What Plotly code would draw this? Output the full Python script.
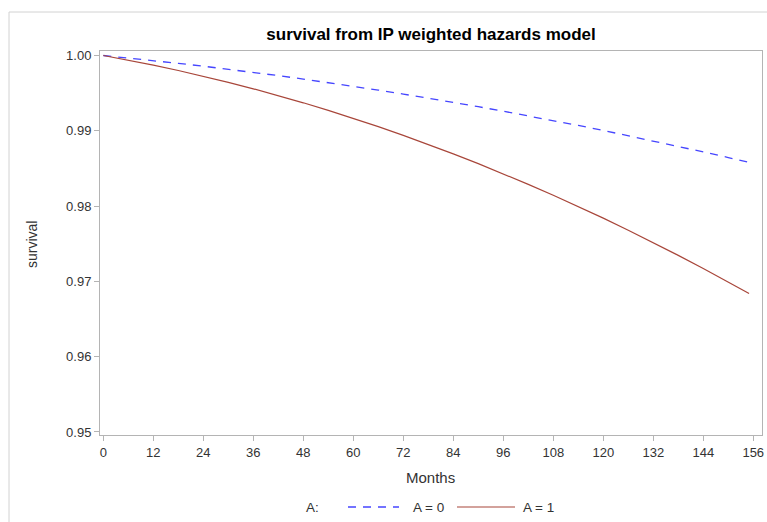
import plotly.graph_objects as go

months = [0, 6, 12, 18, 24, 30, 36, 42, 48, 54, 60, 66, 72, 78, 84, 90, 96,
          102, 108, 114, 120, 126, 132, 138, 144, 150, 155]
surv_a0 = [1.0000, 0.99967, 0.99932, 0.99896, 0.99858, 0.99818, 0.99776, 0.99733,
           0.99687, 0.99640, 0.99591, 0.99541, 0.99488, 0.99434, 0.99378, 0.99320,
           0.99260, 0.99199, 0.99136, 0.99071, 0.99005, 0.98936, 0.98866, 0.98794,
           0.98720, 0.98645, 0.98580]
surv_a1 = [1.0000, 0.99939, 0.99872, 0.99801, 0.99725, 0.99644, 0.99558, 0.99467,
           0.99372, 0.99271, 0.99165, 0.99055, 0.98939, 0.98819, 0.98694, 0.98564,
           0.98429, 0.98289, 0.98144, 0.97994, 0.97840, 0.97680, 0.97515, 0.97346,
           0.97172, 0.96993, 0.96840]
series_names = ["A = 0", "A = 1"]
x_ticks = list(range(0, 157, 12))
y_ticks = [0.95, 0.96, 0.97, 0.98, 0.99, 1.00]

W, H = 767, 522
L, R, T, B = 100, 762, 51, 435
pw, ph = R - L, B - T

def px(x):
    return (x - L) / pw

def py(y):
    return (B - y) / ph

FONT = "Liberation Sans, Arial, sans-serif"
GRAYLINE = "#b4b4b4"
TXT = "#333333"
BLUE = "#4646ff"
RED = "#A8463A"
DASH = "8px,7px"
TICK_SIZE = 13
LABEL_SIZE = 15
LEG_SIZE = 13.5

fig = go.Figure()
fig.add_trace(go.Scatter(x=months, y=surv_a0, mode="lines", name=series_names[0],
                         line=dict(color=BLUE, width=1.3, dash=DASH)))
fig.add_trace(go.Scatter(x=months, y=surv_a1, mode="lines", name=series_names[1],
                         line=dict(color=RED, width=1.2)))

fig.update_layout(
    width=W, height=H,
    margin=dict(l=L, r=W - R, t=T, b=H - B, autoexpand=False),
    paper_bgcolor="white", plot_bgcolor="white",
    font=dict(family=FONT, size=12, color=TXT),
    title=dict(text="<b>survival from IP weighted hazards model</b>",
               x=px(431), xref="paper", xanchor="center",
               y=1 - 34 / H, yref="container", yanchor="middle",
               font=dict(family=FONT, size=17, color="#000000")),
    showlegend=False,
)
fig.update_xaxes(range=[-0.8, 158.1], tickvals=x_ticks, ticks="outside", ticklen=5,
                 tickcolor=GRAYLINE, showline=True, linecolor=GRAYLINE, linewidth=1,
                 mirror=True, showgrid=False, zeroline=False,
                 tickfont=dict(size=TICK_SIZE, color=TXT))
fig.update_yaxes(range=[0.9496, 1.0006], tickvals=y_ticks, tickformat=".2f", ticks="outside",
                 ticklen=5, tickcolor=GRAYLINE, showline=True, linecolor=GRAYLINE, linewidth=1,
                 mirror=True, showgrid=False, zeroline=False,
                 tickfont=dict(size=TICK_SIZE, color=TXT))

fig.add_annotation(text="Months", xref="paper", yref="paper", x=px(430), y=py(477),
                   xanchor="center", yanchor="middle", showarrow=False,
                   font=dict(size=LABEL_SIZE, color=TXT))
fig.add_annotation(text="survival", xref="paper", yref="paper", x=px(32), y=py(245),
                   xanchor="center", yanchor="middle", showarrow=False, textangle=-90,
                   font=dict(size=LABEL_SIZE - 1, color=TXT))

# legend (drawn manually so the sample lines can be as long as in the reference)
LY = 507
fig.add_annotation(text="A:", xref="paper", yref="paper", x=px(304), y=py(LY),
                   xanchor="left", yanchor="middle", showarrow=False,
                   font=dict(size=LEG_SIZE, color=TXT))
fig.add_shape(type="line", xref="paper", yref="paper", x0=px(348), x1=px(399),
              y0=py(LY), y1=py(LY), line=dict(color=BLUE, width=1.3, dash=DASH))
fig.add_annotation(text=series_names[0], xref="paper", yref="paper", x=px(411), y=py(LY),
                   xanchor="left", yanchor="middle", showarrow=False,
                   font=dict(size=LEG_SIZE, color=TXT))
fig.add_shape(type="line", xref="paper", yref="paper", x0=px(457), x1=px(515),
              y0=py(LY), y1=py(LY), line=dict(color=RED, width=1.2))
fig.add_annotation(text=series_names[1], xref="paper", yref="paper", x=px(521), y=py(LY),
                   xanchor="left", yanchor="middle", showarrow=False,
                   font=dict(size=LEG_SIZE, color=TXT))

fig.add_shape(type="rect", xref="paper", yref="paper",
              x0=px(9), x1=px(800), y0=py(560), y1=py(12),
              line=dict(color="#d2d2d2", width=1), fillcolor="rgba(0,0,0,0)", layer="below")

fig.write_html("out.html", config={"displayModeBar": False},
               post_script="document.body.style.margin='0';document.body.style.overflow='hidden';")
